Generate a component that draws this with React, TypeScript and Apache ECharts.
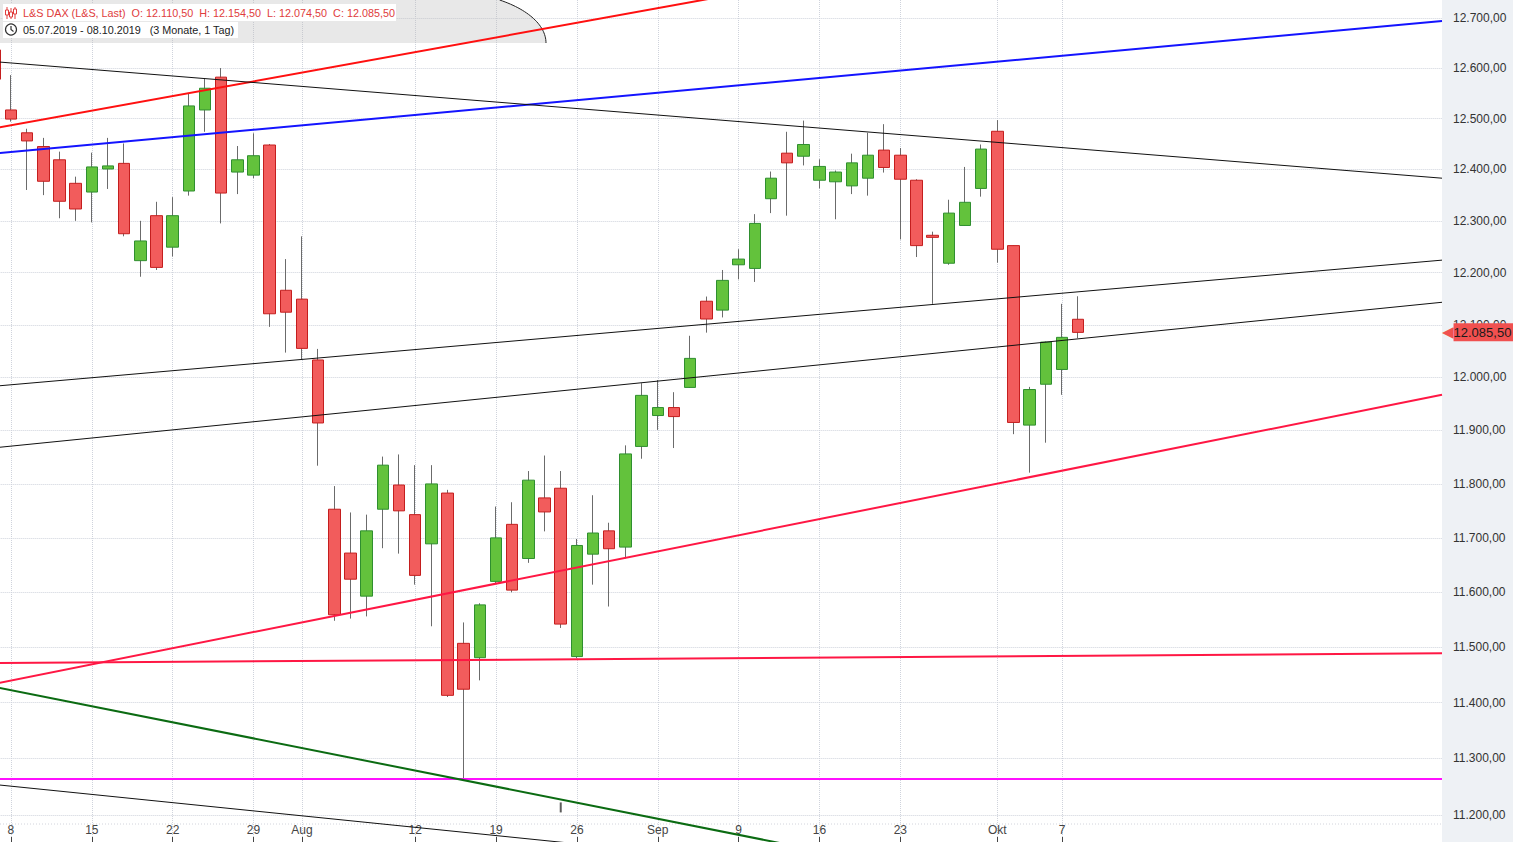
import React, { useEffect, useRef } from 'react';
import * as echarts from 'echarts';

// ---- candle data (L&S DAX, daily) ----
const firstDay = '2019-07-05';
const totalSlots = 90; // trading-day slots on the x axis (incl. empty future space)

const opens = [12636, 12517, 12472, 12445, 12419, 12373, 12356, 12401, 12412, 12223, 12310, 12249, 12358, 12517, 12582, 12395, 12389, 12448, 12166, 12149, 12033, 11753, 11672, 11593, 11753, 11798, 11743, 11689, 11783, 11507, 11481, 11620, 11725, 11662, 11774, 11792, 11483, 11670, 11713, 11683, 11870, 11928, 11943, 11981, 12145, 12128, 12215, 12208, 12343, 12432, 12426, 12379, 12376, 12368, 12383, 12438, 12428, 12379, 12272, 12218, 12291, 12363, 12475, 12252, 11910, 11987, 12015, 12110.5];
const closes = [12578, 12499, 12456, 12377, 12338, 12323, 12405, 12407, 12275, 12261, 12210, 12310, 12525, 12560, 12354, 12419, 12427, 12121, 12124, 12055, 11914, 11559, 11624, 11713, 11835, 11750, 11631, 11800, 11413, 11424, 11577, 11700, 11604, 11807, 11748, 11542, 11686, 11709, 11680, 11856, 11966, 11943, 11926, 12036, 12111, 12185, 12226, 12295, 12383, 12413, 12449, 12406, 12395, 12413, 12428, 12404, 12381, 12252, 12268, 12315, 12336, 12440, 12245, 11915, 11977, 12067, 12076, 12085.5];
const highs = [12652, 12586, 12480, 12462, 12435, 12386, 12433, 12462, 12451, 12300, 12337, 12346, 12550, 12580, 12600, 12446, 12471, 12450, 12226, 12270, 12054, 11796, 11747, 11743, 11851, 11855, 11835, 11835, 11789, 11545, 11580, 11758, 11766, 11824, 11853, 11824, 11698, 11779, 11728, 11872, 11989, 11995, 11972, 12079, 12154, 12205, 12245, 12313, 12396, 12474, 12496, 12420, 12398, 12431, 12472, 12489, 12442, 12381, 12279, 12341, 12405, 12449, 12497, 12252, 11982, 12068, 12140, 12154.5];
const lows = [12560, 12494, 12360, 12350, 12305, 12300, 12297, 12362, 12270, 12192, 12205, 12231, 12349, 12474, 12295, 12352, 12383, 12096, 12047, 12034, 11834, 11548, 11552, 11556, 11681, 11671, 11614, 11538, 11410, 11263, 11440, 11617, 11600, 11654, 11712, 11535, 11480, 11614, 11574, 11662, 11847, 11901, 11867, 11980, 12085, 12114, 12187, 12182, 12315, 12310, 12408, 12363, 12303, 12352, 12349, 12394, 12264, 12230, 12140, 12215, 12290, 12347, 12219, 11893, 11821, 11877, 11967, 12074.5];

// ---- axis labels ----
const tickDates = ['2019-07-08', '2019-07-15', '2019-07-22', '2019-07-29', '2019-08-01', '2019-08-12', '2019-08-19', '2019-08-26', '2019-09-02', '2019-09-09', '2019-09-16', '2019-09-23', '2019-10-01', '2019-10-07'];
const tickTexts = ['8', '15', '22', '29', 'Aug', '12', '19', '26', 'Sep', '9', '16', '23', 'Okt', '7'];
const yTicks = [11200, 11300, 11400, 11500, 11600, 11700, 11800, 11900, 12000, 12100, 12200, 12300, 12400, 12500, 12600, 12700];

// ---- drawn trend lines: [slot index, price] end points ----
const redUpperLine = [[-0.5, 12478], [89.5, 13008]];
const blueLine = [[-0.5, 12430], [89.5, 12694]];
const blackTopLine = [[-0.5, 12614], [89.5, 12383]];
const blackMidLine = [[-0.5, 11982], [89.5, 12224]];
const blackLowLine = [[-0.5, 11866], [89.5, 12143]];
const crimsonRiseLine = [[-0.5, 11431], [89.5, 11967]];
const crimsonFlatLine = [[-0.5, 11471], [89.5, 11489]];
const magentaLine = [[-0.5, 11263.5], [89.5, 11263.5]];
const greenLine = [[-0.5, 11431], [89.5, 10921]];
const blackBottomLine = [[-0.5, 11255], [89.5, 10995]];
const eventMarkers = [['2019-08-23', 11213]];

const headerRange = '05.07.2019 - 08.10.2019   (3 Monate, 1 Tag)';

function weekdays(start: string, count: number): string[] {
  const out: string[] = [];
  const d = new Date(start + 'T12:00:00Z');
  while (out.length < count) {
    const wd = d.getUTCDay();
    if (wd !== 0 && wd !== 6) out.push(d.toISOString().slice(0, 10));
    d.setUTCDate(d.getUTCDate() + 1);
  }
  return out;
}

const fmtDE = (v: number) => {
  const [i, dec] = v.toFixed(2).split('.');
  return i.replace(/\B(?=(\d{3})+(?!\d))/g, '.') + ',' + dec;
};

const FONT = '"Liberation Sans", Arial, sans-serif';

export default function App() {
  const ref = useRef<HTMLDivElement>(null);
  useEffect(() => {
    if (!ref.current) return;
    const chart = echarts.init(ref.current, undefined, { renderer: 'svg' });
    const categories = weekdays(firstDay, totalSlots);
    const labelMap: Record<string, string> = {};
    tickDates.forEach((d, i) => (labelMap[d] = tickTexts[i]));
    const showTick = (_i: number, v: string) => labelMap[v] !== undefined;

    const last = opens.length - 1;
    const wickData = opens.map((o, i) => [o, closes[i], lows[i], highs[i]]);
    const bodyData = opens.map((o, i) => [o, closes[i], Math.min(o, closes[i]), Math.max(o, closes[i])]);

    const trend = (data: number[][], color: string, width: number) => ({
      type: 'line',
      xAxisIndex: 1,
      yAxisIndex: 0,
      data,
      symbol: 'none',
      silent: true,
      clip: true,
      z: 5,
      lineStyle: { color, width },
    });

    // header panel with elliptical right end
    const cx = 440, cy = 43, rx = 106, ry = 52;
    const t0 = Math.asin(cy / ry);
    const arcPts: number[][] = [];
    for (let k = 0; k <= 30; k++) {
      const t = t0 - (t0 * k) / 30;
      arcPts.push([cx + rx * Math.cos(t), cy - ry * Math.sin(t)]);
    }
    const panelPts = [[0, 0], ...arcPts, [0, cy]];

    const line1 = `L&S DAX (L&S, Last)  O: ${fmtDE(opens[last])}  H: ${fmtDE(highs[last])}  L: ${fmtDE(lows[last])}  C: ${fmtDE(closes[last])}`;

    chart.setOption({
      animation: false,
      backgroundColor: '#ffffff',
      textStyle: { fontFamily: FONT },
      grid: { left: -13.3, right: 71, top: 0, bottom: 0, containLabel: false, outerBoundsMode: 'none' },
      xAxis: [
        {
          type: 'category',
          data: categories,
          boundaryGap: true,
          position: 'bottom',
          axisLine: { show: false },
          axisTick: { show: true, inside: true, length: 5, alignWithLabel: true, interval: showTick, lineStyle: { color: '#444' } },
          axisLabel: {
            inside: true,
            interval: showTick,
            formatter: (v: string) => labelMap[v] ?? '',
            margin: 6,
            color: '#444',
            fontSize: 12,
            fontFamily: FONT,
          },
          splitLine: { show: true, alignWithLabel: true, interval: showTick, lineStyle: { type: 'dotted', color: '#cfd3dc' } },
        },
        { type: 'value', min: -0.5, max: totalSlots - 0.5, show: false },
      ],
      yAxis: {
        type: 'log',
        logBase: 10,
        min: 11152,
        max: 12736,
        position: 'right',
        axisLine: { show: true, lineStyle: { color: '#c4c4c4' } },
        axisTick: { show: true, length: 4, customValues: yTicks, lineStyle: { color: '#555' } },
        axisLabel: { customValues: yTicks, formatter: (v: number) => fmtDE(v), color: '#333', fontSize: 12, margin: 11, fontFamily: FONT },
        splitLine: { show: true, customValues: yTicks, lineStyle: { type: 'dotted', color: '#cfd3dc' } },
      },
      series: [
        {
          type: 'candlestick',
          name: 'wick',
          data: wickData,
          barWidth: 1,
          silent: true,
          z: 2,
          itemStyle: { color: '#6b6b6b', color0: '#6b6b6b', borderColor: '#6b6b6b', borderColor0: '#6b6b6b', borderWidth: 1 },
        },
        {
          type: 'candlestick',
          name: 'body',
          data: bodyData,
          barWidth: 12,
          silent: true,
          z: 3,
          itemStyle: { color: '#63c23c', color0: '#f25c5c', borderColor: '#2f8f2f', borderColor0: '#c41e1e', borderWidth: 1 },
          markLine: {
            silent: true,
            z: 20,
            symbol: ['none', 'none'],
            lineStyle: { color: 'rgba(0,0,0,0)', width: 0, opacity: 1 },
            label: {
              show: true,
              position: 'end',
              distance: 0,
              opacity: 1,
              color: '#1a1a1a',
              formatter: () => `{a|◀}{b|${fmtDE(closes[last])}}`,
              rich: {
                a: { color: '#f0504f', fontSize: 15, lineHeight: 18, padding: [0, 0, 0, 0], fontFamily: 'DejaVu Sans' },
                b: { backgroundColor: '#f0504f', color: '#1a1a1a', fontSize: 13, lineHeight: 18, height: 18, padding: [0, 6, 0, 0], fontFamily: FONT },
              },
            },
            emphasis: { disabled: true },
            data: [{ yAxis: closes[last] }],
          },
        },
        trend(redUpperLine, '#ff1010', 2),
        trend(blueLine, '#1414ff', 2),
        trend(blackTopLine, '#111111', 1),
        trend(blackMidLine, '#111111', 1),
        trend(blackLowLine, '#111111', 1),
        trend(crimsonRiseLine, '#ff1744', 2),
        trend(crimsonFlatLine, '#ff1744', 2),
        trend(magentaLine, '#ff10ff', 2),
        trend(greenLine, '#0b6b12', 2),
        trend(blackBottomLine, '#111111', 1),
        {
          type: 'scatter',
          data: eventMarkers,
          symbol: 'rect',
          symbolSize: [2, 10],
          itemStyle: { color: '#333' },
          silent: true,
          z: 4,
        },
      ],
      graphic: [
        { type: 'rect', silent: true, z: -10, shape: { x: 1442, y: 0, width: 71, height: 842 }, style: { fill: '#eef1f5' } },
        { type: 'line', silent: true, z: 0, shape: { x1: 0, y1: 824, x2: 1442, y2: 824 }, style: { stroke: '#d2d4dc', lineWidth: 1, lineDash: [1, 2] } },
        { type: 'polygon', silent: true, z: 1, shape: { points: panelPts }, style: { fill: 'rgba(185,185,185,0.33)' } },
        { type: 'polyline', silent: true, z: 1, shape: { points: arcPts }, style: { stroke: '#222', lineWidth: 1, fill: 'none' } },
        { type: 'rect', silent: true, z: 50, shape: { x: 3, y: 4, width: 393, height: 17 }, style: { fill: '#ffffff' } },
        { type: 'rect', silent: true, z: 50, shape: { x: 3, y: 22, width: 235, height: 16 }, style: { fill: '#ffffff' } },
        // candle icon
        { type: 'line', silent: true, z: 51, shape: { x1: 7, y1: 7, x2: 7, y2: 19 }, style: { stroke: '#e03c3c', lineWidth: 1 } },
        { type: 'rect', silent: true, z: 51, shape: { x: 5.5, y: 10, width: 3, height: 5 }, style: { fill: '#fff', stroke: '#e03c3c', lineWidth: 1 } },
        { type: 'line', silent: true, z: 51, shape: { x1: 11, y1: 8, x2: 11, y2: 19 }, style: { stroke: '#e03c3c', lineWidth: 1 } },
        { type: 'rect', silent: true, z: 51, shape: { x: 9.5, y: 12, width: 3, height: 5 }, style: { fill: '#fff', stroke: '#e03c3c', lineWidth: 1 } },
        { type: 'line', silent: true, z: 51, shape: { x1: 15, y1: 7, x2: 15, y2: 19 }, style: { stroke: '#e03c3c', lineWidth: 1 } },
        { type: 'rect', silent: true, z: 51, shape: { x: 13.5, y: 9, width: 3, height: 5 }, style: { fill: '#fff', stroke: '#e03c3c', lineWidth: 1 } },
        // clock icon
        { type: 'circle', silent: true, z: 51, shape: { cx: 11, cy: 29.5, r: 5.5 }, style: { fill: 'none', stroke: '#333', lineWidth: 1.2 } },
        { type: 'polyline', silent: true, z: 51, shape: { points: [[11, 26], [11, 29.5], [13.5, 31.5]] }, style: { fill: 'none', stroke: '#333', lineWidth: 1.2 } },
        {
          type: 'text', silent: true, z: 52, x: 23, y: 13,
          style: { text: line1, fill: '#e03c3c', font: `10.8px ${FONT}`, verticalAlign: 'middle', textVerticalAlign: 'middle' },
        },
        {
          type: 'text', silent: true, z: 52, x: 23, y: 30,
          style: { text: headerRange, fill: '#222', font: `10.8px ${FONT}`, verticalAlign: 'middle', textVerticalAlign: 'middle' },
        },
      ],
    });
    return () => chart.dispose();
  }, []);
  return <div ref={ref} style={{ position: 'fixed', left: 0, top: 0, width: 1513, height: 842 }} />;
}
